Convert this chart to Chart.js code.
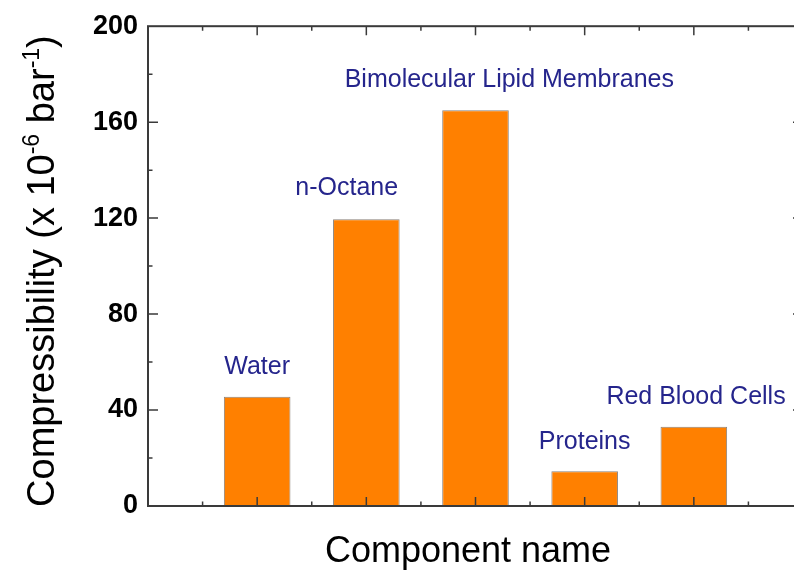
<!DOCTYPE html>
<html lang="en">
<head>
<meta charset="UTF-8">
<title>Compressibility by component</title>
<script src="https://cdn.jsdelivr.net/npm/chart.js@4"></script>
<style>
    html, body { margin: 0; padding: 0; background: #ffffff; overflow: hidden; }
    #wrap { width: 820px; height: 575px; }
</style>
</head>
<body>
<div id="wrap"><canvas id="chart" width="820" height="575"></canvas></div>
<script>
// DATA
const categories = ['Water', 'n-Octane', 'Bimolecular Lipid Membranes', 'Proteins', 'Red Blood Cells'];
const positions = [1, 2, 3, 4, 5];
const values = [45.5, 119.5, 165, 14.5, 33];
// where each component name sits, in axis units (x position, compressibility)
const labelX = [1.0, 1.82, 3.31, 4.0, 5.02];
const labelY = [58, 132.6, 177.5, 26.5, 45.3];
const yTicks = [0, 40, 80, 120, 160, 200];

const FONT = "'Liberation Sans', Arial, Helvetica, sans-serif";
const AXIS_COLOR = '#3a3a3a';
const NAME_COLOR = '#25258c';

// frame, inward ticks on all four sides, component names
const framePlugin = {
    id: 'frame',
    afterDatasetsDraw(chart) {
        const { ctx, chartArea: a, scales: { x, y } } = chart;
        ctx.save();
        ctx.strokeStyle = AXIS_COLOR;
        ctx.lineWidth = 1.5;
        ctx.beginPath();
        for (let v = 0.5; v < 6; v += 0.5) {
            const px = x.getPixelForValue(v);
            const len = Number.isInteger(v) ? 9 : 4.5;
            ctx.moveTo(px, a.bottom); ctx.lineTo(px, a.bottom - len);
            ctx.moveTo(px, a.top); ctx.lineTo(px, a.top + len);
        }
        for (let v = 20; v < 200; v += 20) {
            const py = y.getPixelForValue(v);
            const len = v % 40 === 0 ? 10 : 4.5;
            ctx.moveTo(a.left, py); ctx.lineTo(a.left + len, py);
            ctx.moveTo(a.right, py); ctx.lineTo(a.right - len, py);
        }
        ctx.stroke();
        ctx.lineWidth = 2;
        ctx.strokeRect(a.left, a.top, a.right - a.left, a.bottom - a.top);

        ctx.fillStyle = NAME_COLOR;
        ctx.font = '25px ' + FONT;
        ctx.textAlign = 'center';
        ctx.textBaseline = 'middle';
        categories.forEach((name, i) => {
            ctx.fillText(name, x.getPixelForValue(labelX[i]), y.getPixelForValue(labelY[i]));
        });
        ctx.restore();
    },
    afterDraw(chart) {
        const { ctx, chartArea: a } = chart;
        ctx.save();
        ctx.fillStyle = '#000000';

        // x title
        ctx.font = '36px ' + FONT;
        ctx.textAlign = 'center';
        ctx.textBaseline = 'alphabetic';
        ctx.fillText('Component name', 468, 562);

        // y title with superscripts
        const big = '38px ' + FONT;
        const small = '23px ' + FONT;
        const parts = [
            { t: 'Compressibility (x 10', f: big, dy: 0 },
            { t: '-6', f: small, dy: -15 },
            { t: ' bar', f: big, dy: 0 },
            { t: '-1', f: small, dy: -15 },
            { t: ')', f: big, dy: 0 }
        ];
        let total = 0;
        parts.forEach(p => { ctx.font = p.f; p.w = ctx.measureText(p.t).width; total += p.w; });
        ctx.translate(54, (a.top + a.bottom) / 2 + 5);
        ctx.rotate(-Math.PI / 2);
        ctx.textAlign = 'left';
        let cx = -total / 2;
        parts.forEach(p => {
            ctx.font = p.f;
            ctx.fillText(p.t, cx, p.dy);
            cx += p.w;
        });
        ctx.restore();
    }
};

new Chart(document.getElementById('chart'), {
    type: 'bar',
    data: {
        datasets: [{
            data: positions.map((p, i) => ({ x: p, y: values[i] })),
            backgroundColor: '#ff8000',
            borderColor: 'rgba(100,90,80,0.75)',
            borderWidth: 1,
            barPercentage: 0.61,
            categoryPercentage: 1
        }]
    },
    options: {
        responsive: false,
        animation: false,
        layout: { padding: { left: 0, top: 25, right: 17, bottom: 0 } },
        plugins: { legend: { display: false }, tooltip: { enabled: false } },
        scales: {
            x: {
                type: 'linear',
                offset: false,
                min: 0,
                max: 6,
                ticks: { display: false, stepSize: 1 },
                grid: { display: false, drawTicks: false },
                border: { display: false },
                afterFit: s => { s.height = 69; }
            },
            y: {
                min: 0,
                max: 200,
                afterBuildTicks: s => { s.ticks = yTicks.map(v => ({ value: v })); },
                ticks: { color: '#000000', padding: 10, font: { family: FONT, size: 27, weight: 'bold' } },
                grid: { display: false, drawTicks: false },
                border: { display: false },
                afterFit: s => { s.width = 148; }
            }
        }
    },
    plugins: [framePlugin]
});
</script>
</body>
</html>
